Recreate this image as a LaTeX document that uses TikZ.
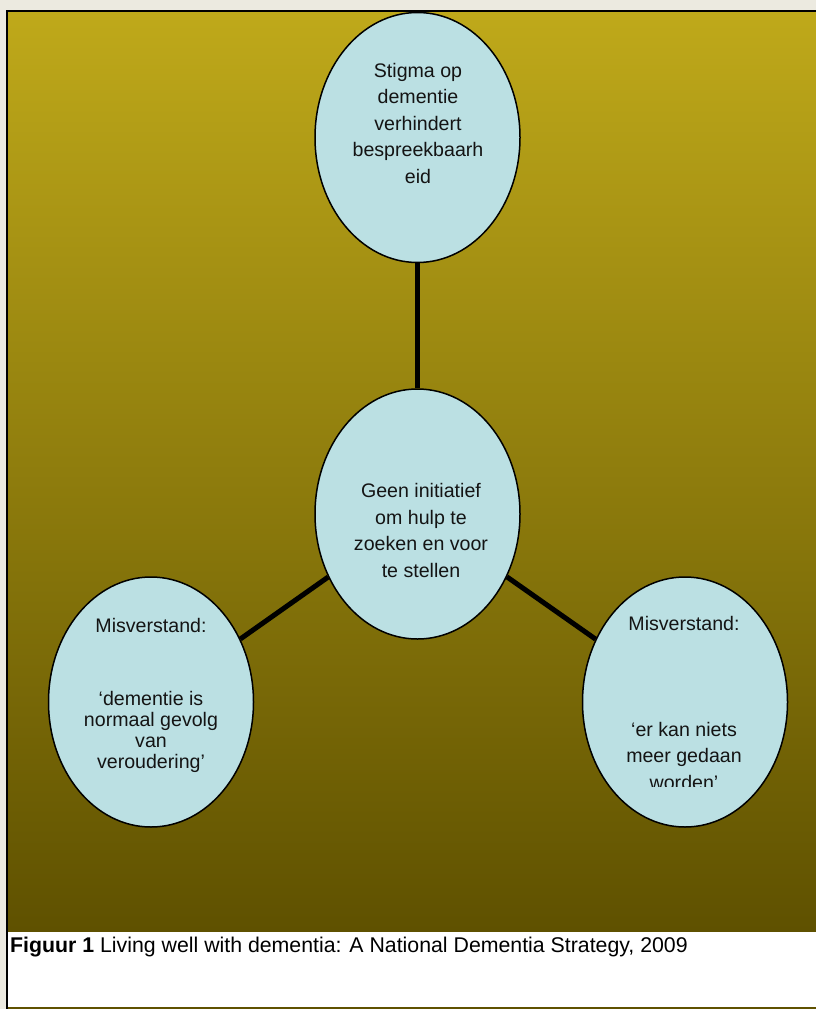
\documentclass[tikz,border=0pt]{standalone}
\usepackage{fontspec}
\setmainfont{Liberation Sans}
\usetikzlibrary{shapes.geometric}

\definecolor{pagegrey}{RGB}{236,234,224}
\definecolor{olivetop}{RGB}{191,169,26}
\definecolor{olivebottom}{RGB}{95,81,0}
\definecolor{bubbleblue}{RGB}{187,224,227}

\begin{document}
\begin{tikzpicture}[
    x=1pt, y=-1pt,
    bubble/.style={ellipse, draw, line width=1.5pt, fill=bubbleblue, minimum width=205pt, minimum height=250pt, inner sep=0pt},
    bubbletext/.style={anchor=base, align=center, inner sep=0pt, font=\fontsize{19.6}{26.5}\selectfont, text=black!92},
    link/.style={line width=5pt}
]

% Page and frame
\useasboundingbox (0,0) rectangle (816,1009);
\fill[pagegrey] (0,0) rectangle (816,1009);
\fill[white] (6,10) rectangle (816,1009);
\shade[top color=olivetop, bottom color=olivebottom] (8,11.5) rectangle (816,931);
\draw[black, line width=1.5pt] (6.75,1009) |- (816,10.75);
\draw[olivebottom, line width=2pt] (8,1008) -- (816,1008);

% Bubbles
\node[bubble] (stigma) at (417.5,137.5) {};
\node[bubble] (geen) at (417.5,514) {};
\node[bubble] (normaal) at (151,702) {};
\node[bubble] (niets) at (685,702) {};

% Links
\draw[link] (geen) -- (stigma);
\draw[link] (geen) -- (normaal);
\draw[link] (geen) -- (niets);

% Texts (placed at the baseline of their last line)
\node[bubbletext] (stigmatext) at (418,183) {Stigma op\\dementie\\verhindert\\bespreekbaarh\\eid};
\node[bubbletext] (geentext) at (421,577) {Geen initiatief\\om hulp te\\zoeken en voor\\te stellen};
\node[bubbletext, font=\fontsize{19.6}{21}\selectfont] (normaaltext) at (151,768) {Misverstand:\\[52pt]‘dementie is\\normaal gevolg\\van\\veroudering’};
\begin{scope}
  \clip (560,560) rectangle (816,786);
  \node[bubbletext] (nietstext) at (684,789) {Misverstand:\\[79pt]‘er kan niets\\meer gedaan\\worden’};
\end{scope}

% Caption
\node[anchor=base west, inner sep=0pt, font=\fontsize{21.3}{25}\selectfont] (caption) at (10,952) {\textbf{Figuur 1} Living well with dementia: A National Dementia Strategy, 2009};

\end{tikzpicture}
\end{document}
